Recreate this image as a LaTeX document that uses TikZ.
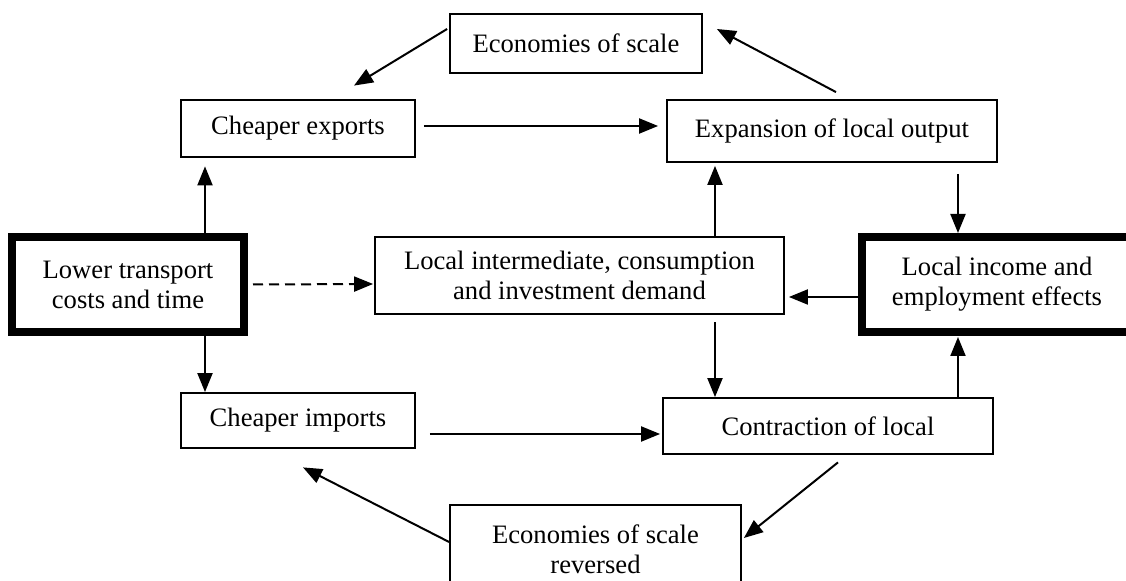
\documentclass[tikz,border=0pt]{standalone}
\usepackage{fontspec}
\setmainfont{Liberation Serif}
\usetikzlibrary{arrows.meta}

\begin{document}
\begin{tikzpicture}[x=0.5pt, y=-0.5pt,
  box/.style={draw, line width=0.9pt, align=center, inner sep=0pt, font=\fontsize{13.3}{15}\selectfont},
  thickbox/.style={box, line width=4pt},
  arr/.style={line width=1pt, -{Triangle[length=9.5pt,width=7.5pt]}}]
\useasboundingbox (0,0) rectangle (1126,581);

\node[box, minimum width=126pt, minimum height=29.5pt] (econ) at (576,43.5) {Economies of scale};
\node[box, minimum width=117pt, minimum height=28.5pt] (exports) at (298,128.5) {Cheaper exports};
\node[box, minimum width=165pt, minimum height=31pt] (expansion) at (832,131) {Expansion of local output};
\node[thickbox, minimum width=116pt, minimum height=47.5pt] (lower) at (128,284.5) {Lower transport\\costs and time};
\node[box, minimum width=204.5pt, minimum height=38.5pt] (inter) at (579.5,275.5) {Local intermediate, consumption\\and investment demand};
\node[thickbox, minimum width=135pt, minimum height=47.5pt] (income) at (997,284.5) {Local income and\\employment effects};
\node[box, minimum width=117pt, minimum height=27.5pt] (imports) at (298,420.5) {Cheaper imports};
\node[box, minimum width=165pt, minimum height=28pt] (contraction) at (828,426) {Contraction of local};
\node[box, minimum width=145.5pt, minimum height=44pt] (reversed) at (595.5,549) {Economies of scale\\reversed};

\draw[arr] ([shift={(4,-7)}]expansion.north) -- ([shift={(14,-14.5)}]econ.east);
\draw[arr] ([shift={(-2,-14.5)}]econ.west) -- ([shift={(56,-13.5)}]exports.north);
\draw[arr] ([shift={(8,-2.5)}]exports.east) -- ([shift={(-8,-5)}]expansion.west);
\draw[arr] ([shift={(77,0)}]lower.north) -- ([shift={(-93,8.5)}]exports.south);
\draw[arr] ([shift={(77,0)}]lower.south) -- ([shift={(-93,0)}]imports.north);
\draw[arr, dash pattern=on 5pt off 3pt] ([shift={(5,0)}]lower.east) -- ([shift={(-1,8.5)}]inter.west);
\draw[arr] ([shift={(135.5,0)}]inter.north) -- ([shift={(-117,3)}]expansion.south);
\draw[arr] ([shift={(126,11)}]expansion.south) -- ([shift={(-39,0)}]income.north);
\draw[arr] ([shift={(0,12.5)}]income.west) -- ([shift={(4,21.5)}]inter.east);
\draw[arr] ([shift={(135.5,7.5)}]inter.south) -- ([shift={(-113,0)}]contraction.north);
\draw[arr] ([shift={(130,0)}]contraction.north) -- ([shift={(-39,1)}]income.south);
\draw[arr] ([shift={(14,13.5)}]imports.east) -- ([shift={(-2,8)}]contraction.west);
\draw[arr] ([shift={(10,7.5)}]contraction.south) -- ([shift={(2,-11)}]reversed.east);
\draw[arr] ([shift={(0,-7)}]reversed.west) -- ([shift={(5,18.5)}]imports.south);
\end{tikzpicture}
\end{document}
